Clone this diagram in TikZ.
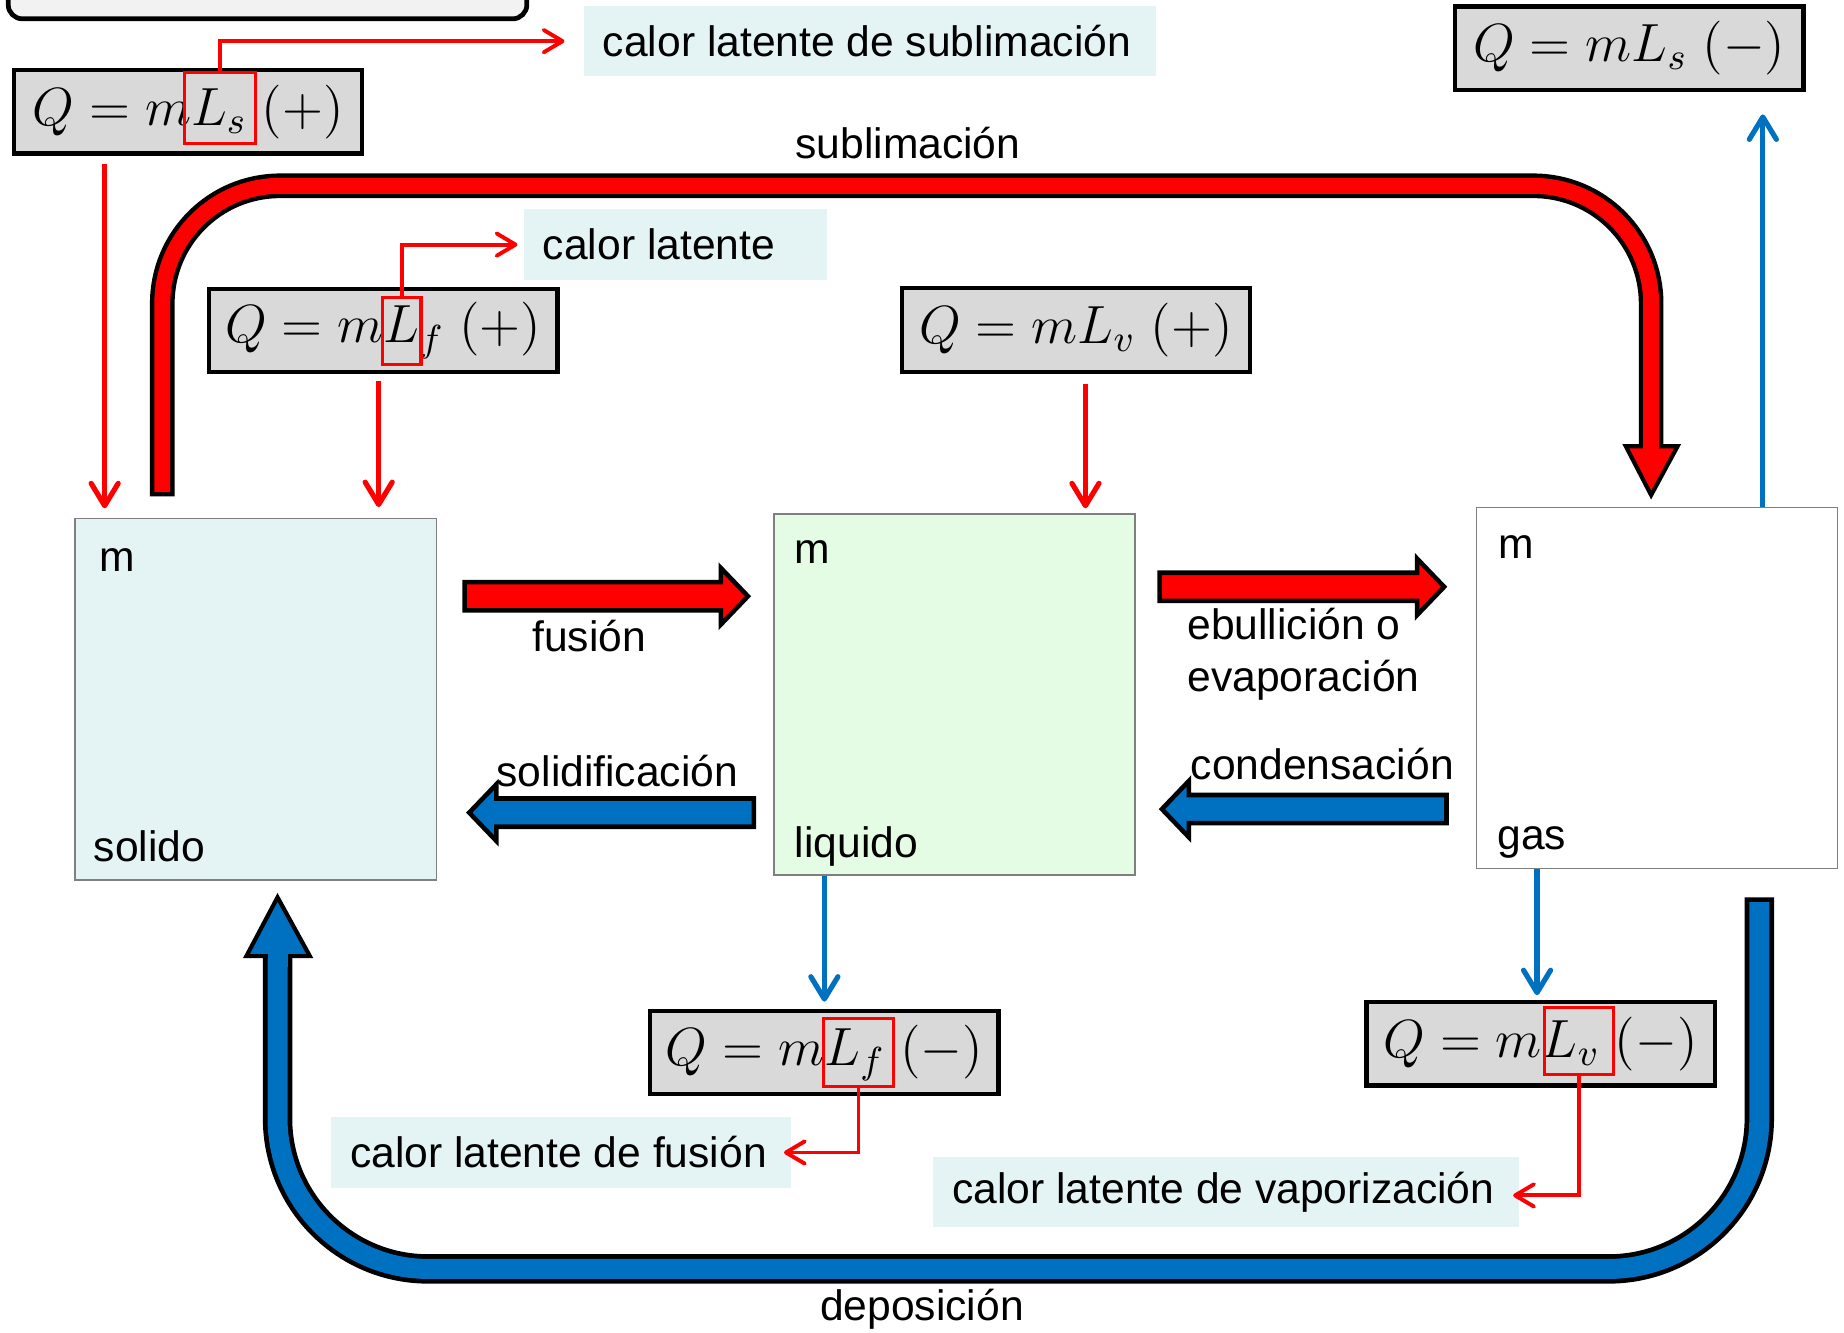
\RequirePackage{fix-cm}
\documentclass[tikz,border=0pt]{standalone}
\usepackage[no-math]{fontspec}
\newfontfamily\sansf{Liberation Sans}
\usetikzlibrary{arrows.meta,calc}

\definecolor{hotred}{HTML}{FF0000}
\definecolor{coolblue}{HTML}{0070C0}
\definecolor{solfill}{HTML}{E4F3F3}
\definecolor{liqfill}{HTML}{E3FCE3}
\definecolor{notefill}{HTML}{E4F3F4}
\definecolor{eqfill}{HTML}{D9D9D9}
\definecolor{capfill}{HTML}{F2F2F2}
\definecolor{edgegray}{HTML}{7F7F7F}

\tikzset{
  lbl/.style={font=\sansf\fontsize{10.3}{12.6}\selectfont, inner sep=0pt},
  phase/.style={draw=edgegray, line width=0.4pt, minimum width=3.07cm,
    minimum height=3.07cm, inner sep=0pt},
  eqbox/.style={draw=black, fill=eqfill, line width=1pt, minimum width=2.96cm,
    minimum height=0.71cm, inner sep=0pt, font=\fontsize{13}{15}\selectfont},
  notebox/.style={fill=notefill, minimum height=0.6cm, inner xsep=0.16cm,
    inner ysep=0pt, anchor=west, font=\sansf\fontsize{10.3}{12.6}\selectfont},
  marksq/.style={draw=hotred, line width=0.75pt, inner sep=0pt},
  heatin/.style={draw=hotred, line width=1.25pt,
    -{Straight Barb[length=1.9mm,width=2.3mm,round]}},
  heatout/.style={draw=coolblue, line width=1.25pt,
    -{Straight Barb[length=1.9mm,width=2.3mm,round]}},
  pointer/.style={draw=hotred, line width=0.95pt,
    -{Straight Barb[length=1.6mm,width=1.9mm,round]}},
  fatline/.style={draw=black, line width=1.1pt, line join=miter},
  bigout/.style={draw=black, line width=#1},
  bigin/.style={line width=#1},
}

% horizontal block arrow: tail x, tip x, centre y, fill colour
\newcommand{\fatarrow}[4]{%
  \pgfmathsetmacro{\fahb}{#2-23*sign(#2-#1)}%
  \draw[fatline, fill=#4] (#1,#3-12) -- (\fahb,#3-12) -- (\fahb,#3-24)
    -- (#2,#3) -- (\fahb,#3+24) -- (\fahb,#3+12) -- (#1,#3+12) -- cycle;}

% note box of fixed width with left-set text
\newcommand{\notetext}[2]{\hbox to #1{#2\hss}}

\begin{document}
\begin{tikzpicture}[x=0.01cm, y=-0.01cm]
\useasboundingbox (0,0) rectangle (1568,1133);
\clip (0,0) rectangle (1568,1133);

% panel edge along the top
\draw[fill=capfill, line width=1.15pt, rounded corners=0.12cm]
  (7,-60) rectangle (448,16);

% phase boxes
\node[phase, fill=solfill] (sol) at (217.5,594.5) {};
\node[phase, fill=liqfill] (liq) at (811.5,590.5) {};
\node[phase, fill=white]   (gas) at (1409,585) {};

\node[lbl, anchor=base west] (solm) at ($(sol.north west)+(21,46)$) {m};
\node[lbl, anchor=base west] (soln) at ($(sol.south west)+(16,-16)$) {solido};
\node[lbl, anchor=base west] (liqm) at ($(liq.north west)+(18,43)$) {m};
\node[lbl, anchor=base west] (liqn) at ($(liq.south west)+(18,-16)$) {liquido};
\node[lbl, anchor=base west] (gasm) at ($(gas.north west)+(19,44)$) {m};
\node[lbl, anchor=base west] (gasn) at ($(gas.south west)+(18,-17)$) {gas};

% latent heat formulas
\node[eqbox] (fs1) at (160,95)     {$Q = mL_s\;(+)$};
\node[eqbox] (fs2) at (1385.5,41)  {$Q = mL_s\;(-)$};
\node[eqbox] (ff1) at (326,281)    {$Q = mL_f\;(+)$};
\node[eqbox] (fv1) at (915,280.5)  {$Q = mL_v\;(+)$};
\node[eqbox] (ff2) at (701,895)    {$Q = mL_f\;(-)$};
\node[eqbox] (fv2) at (1310,887.5) {$Q = mL_v\;(-)$};

% red frames round the latent heats
\node[marksq, minimum width=0.6cm,  minimum height=0.6cm]  (rs1) at (187,92) {};
\node[marksq, minimum width=0.33cm, minimum height=0.57cm] (rf1) at (341.5,281.5) {};
\node[marksq, minimum width=0.6cm,  minimum height=0.58cm] (rf2) at (730,895) {};
\node[marksq, minimum width=0.59cm, minimum height=0.57cm] (rv2) at (1342.5,885.5) {};

% notes
\node[notebox] (lab1) at (496,35)     {\notetext{4.54cm}{calor latente de sublimación}};
\node[notebox] (lab2) at (445,208)    {\notetext{2.25cm}{calor latente}};
\node[notebox] (lab3) at (281,980)    {\notetext{3.59cm}{calor latente de fusión}};
\node[notebox] (lab4) at (793,1013.5) {\notetext{4.66cm}{calor latente de vaporización}};

\draw[pointer] (rs1.north) |- ($(lab1.west)+(-16,0)$);
\draw[pointer] (rf1.north) |- ($(lab2.west)+(-5,0)$);
\draw[pointer] (rf2.south) |- ($(lab3.east)+(-7,0)$);
\draw[pointer] (rv2.south) |- ($(lab4.east)+(-6,3)$);

% heat in / heat out
\coordinate (h1) at ($(fs1.south)+(-71,0)$);
\coordinate (h2) at ($(ff1.south)+(-4,0)$);
\coordinate (h3) at ($(fv1.south)+(8,0)$);
\coordinate (h4) at ($(gas.north)+(90,0)$);
\coordinate (h5) at ($(liq.south)+(-110.5,0)$);
\coordinate (h6) at ($(gas.south)+(-102,0)$);
\draw[heatin, shorten <=0.07cm, shorten >=0.08cm] (h1) -- (h1 |- sol.north);
\draw[heatin, shorten <=0.06cm, shorten >=0.09cm] (h2) -- (h2 |- sol.north);
\draw[heatin, shorten <=0.09cm, shorten >=0.04cm] (h3) -- (h3 |- liq.north);
\draw[heatout, shorten >=0.19cm] (h4) -- (h4 |- fs2.south);
\draw[heatout, shorten >=0.06cm] (h5) -- (h5 |- ff2.north);
\draw[heatout, shorten >=0.04cm] (h6) -- (h6 |- fv2.north);

% sublimation
\draw[bigout=0.21cm, rounded corners=1cm] (138,422) -- (138,158) -- (1404,158) -- (1404,380);
\draw[bigin=0.135cm, draw=hotred, rounded corners=1cm] (138,418.5) -- (138,158) -- (1404,158) -- (1404,384);
\draw[fatline, line width=1pt, fill=hotred] (1382.5,379.5) -- (1426.5,379.5) -- (1404,421) -- cycle;
\draw[bigin=0.135cm, draw=hotred] (1404,372) -- (1404,386);
\node[lbl, anchor=base] (tsub) at (772,135) {sublimación};

% deposition
\draw[bigout=0.25cm, rounded corners=1.28cm] (1496,763) -- (1496,1079) -- (236,1079) -- (236,813);
\draw[bigin=0.17cm, draw=coolblue, rounded corners=1.28cm] (1496,767) -- (1496,1079) -- (236,1079) -- (236,808);
\draw[fatline, line width=1pt, fill=coolblue] (209.5,813) -- (263.5,813) -- (236,763) -- cycle;
\draw[bigin=0.17cm, draw=coolblue] (236,822) -- (236,806);
\node[lbl, anchor=base] (tdep) at (784,1123) {deposición};

% phase changes between neighbours
\fatarrow{395}{636}{507}{hotred}
\fatarrow{641}{399}{691}{coolblue}
\fatarrow{986}{1228}{499}{hotred}
\fatarrow{1230}{988}{688}{coolblue}
\node[lbl, anchor=base] (tfus) at (501,554) {fusión};
\node[lbl, anchor=base] (tsol) at (525,669) {solidificación};
\node[lbl, anchor=base west] (tebu) at (1009,544) {ebullición o};
\node[lbl, anchor=base west] (teva) at (1009,588) {evaporación};
\node[lbl, anchor=base west] (tcon) at (1012,663) {condensación};
\end{tikzpicture}
\end{document}
